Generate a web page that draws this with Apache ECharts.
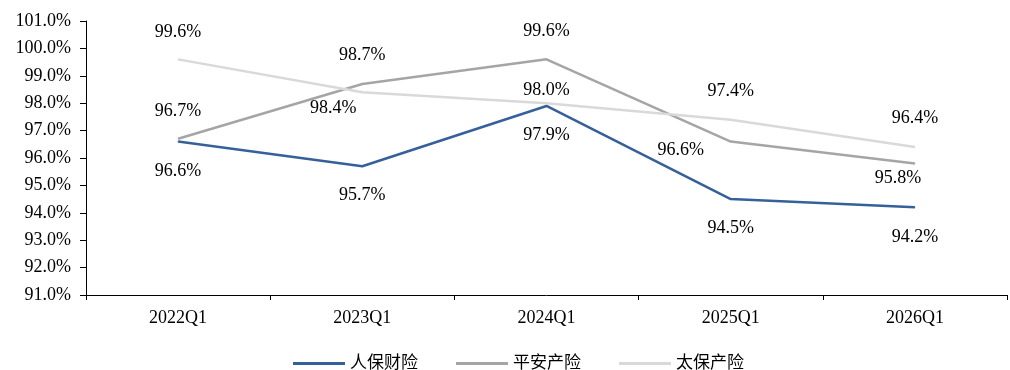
<!DOCTYPE html>
<html>
<head>
<meta charset="utf-8">
<script src="https://cdn.jsdelivr.net/npm/echarts@6/dist/echarts.min.js"></script>
<style>
  html, body { margin: 0; padding: 0; background: #fff; }
  #chart { width: 1010px; height: 370px; }
</style>
</head>
<body>
<div id="chart"></div>
<script>
// 数据
const categories = ['2022Q1', '2023Q1', '2024Q1', '2025Q1', '2026Q1']
const seriesNames = ['人保财险', '平安产险', '太保产险']
const renbao = [96.6, 95.7, 97.9, 94.5, 94.2]
const pingan = [96.7, 98.7, 99.6, 96.6, 95.8]
const taibao = [99.6, 98.4, 98.0, 97.4, 96.4]

// 数据标签的偏移（像素，相对数据点）
const renbaoShift = [[0, 30], [0, 29], [0, 29], [0, 29], [0, 30]]
const pinganShift = [[0, -28], [0, -29], [0, -28], [-50, 9], [-17, 15]]
const taibaoShift = [[0, -27], [-29, 16], [0, -13], [0, -28], [0, -29]]

const colors = ['#36609a', '#a5a5a5', '#d9d9d9']
const font = '"Liberation Serif", "Times New Roman", "Noto Sans CJK SC", serif'

const chart = echarts.init(document.getElementById('chart'))

const makeSeries = (name, values, shifts, color) => ({
  name,
  type: 'line',
  data: values.map((v, i) => ({
    value: v,
    label: { offset: shifts[i] }
  })),
  symbol: 'circle',
  symbolSize: 1,
  showSymbol: true,
  lineStyle: { width: 2.5, color },
  itemStyle: { color },
  emphasis: { disabled: true },
  label: {
    show: true,
    position: 'inside',
    color: '#000',
    fontFamily: font,
    fontSize: 18,
    formatter: p => p.value.toFixed(1) + '%'
  },
  z: 2
})

const option = {
  animation: false,
  color: colors,
  grid: {
    left: 86,
    right: 3,
    top: 21,
    bottom: 75,
    containLabel: false
  },
  legend: {
    top: 350,
    left: 288,
    itemWidth: 52,
    itemHeight: 3,
    itemGap: 38,
    icon: 'rect',
    textStyle: { fontFamily: font, fontSize: 17, color: '#000' },
    data: seriesNames
  },
  xAxis: {
    type: 'category',
    data: categories,
    boundaryGap: true,
    axisLine: { lineStyle: { color: '#000', width: 1 } },
    axisTick: { show: true, length: 5, lineStyle: { color: '#000' } },
    axisLabel: {
      margin: 14,
      color: '#000',
      fontFamily: font,
      fontSize: 18
    }
  },
  yAxis: {
    type: 'value',
    min: 91,
    max: 101,
    interval: 1,
    splitLine: { show: false },
    axisLine: { show: true, lineStyle: { color: '#000', width: 1 } },
    axisTick: { show: true, length: 6, lineStyle: { color: '#000' } },
    axisLabel: {
      margin: 15,
      color: '#000',
      fontFamily: font,
      fontSize: 18,
      formatter: v => v.toFixed(1) + '%'
    }
  },
  series: [
    makeSeries(seriesNames[0], renbao, renbaoShift, colors[0]),
    makeSeries(seriesNames[1], pingan, pinganShift, colors[1]),
    makeSeries(seriesNames[2], taibao, taibaoShift, colors[2])
  ]
}

chart.setOption(option)
</script>
</body>
</html>
